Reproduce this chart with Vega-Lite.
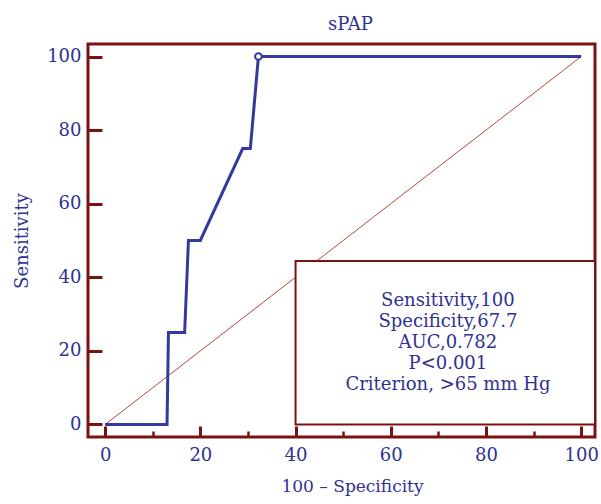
{
  "$schema": "https://vega.github.io/schema/vega-lite/v6.json",
  "width": 507,
  "height": 393,
  "autosize": "none",
  "padding": {"left": 88, "top": 44, "right": 6, "bottom": 67},
  "background": "white",
  "config": {
    "view": {"stroke": "#7a1212", "strokeWidth": 3},
    "font": "DejaVu Serif",
    "axis": {
      "domain": false,
      "grid": false,
      "tickColor": "#7a1212",
      "labelFont": "DejaVu Serif",
      "labelFontSize": 18,
      "labelColor": "#2e3192",
      "titleFont": "DejaVu Serif",
      "titleFontSize": 17,
      "titleFontWeight": "normal",
      "titleColor": "#2e3192"
    }
  },
  "title": {
    "text": "sPAP",
    "fontSize": 18,
    "font": "DejaVu Serif",
    "fontWeight": "normal",
    "color": "#2e3192",
    "baseline": "bottom",
    "offset": 11,
    "dx": 9,
    "dy": 19
  },
  "datasets": {
    "roc": [
      {"x": 0, "y": 0},
      {"x": 13, "y": 0},
      {"x": 13.3, "y": 25},
      {"x": 16.7, "y": 25},
      {"x": 17.5, "y": 50},
      {"x": 20, "y": 50},
      {"x": 28.9, "y": 75},
      {"x": 30.5, "y": 75},
      {"x": 32.2, "y": 100},
      {"x": 100, "y": 100}
    ],
    "diag": [
      {"x": 0, "y": 0},
      {"x": 100, "y": 100}
    ],
    "cut": [
      {"x": 32.2, "y": 100}
    ],
    "box": [
      {"label": "stats"}
    ]
  },
  "layer": [
    {
      "data": {"name": "diag"},
      "mark": {"type": "line", "color": "#b5473f", "strokeWidth": 1},
      "encoding": {
        "x": {
          "field": "x", "type": "quantitative",
          "scale": {"domain": [-3.6, 102.9], "nice": false, "zero": false},
          "title": "100 – Specificity",
          "axis": {
            "values": [0, 5, 10, 15, 20, 25, 30, 35, 40, 45, 50, 55, 60, 65, 70, 75, 80, 85, 90, 95, 100],
            "labelExpr": "datum.value % 20 === 0 ? datum.label : ''",
            "tickSize": {"condition": {"test": "datum.value % 20 === 0", "value": -11}, "value": -6},
            "tickWidth": {"condition": {"test": "datum.value % 20 === 0", "value": 3}, "value": 2.5},
            "labelPadding": 20,
            "titlePadding": 14,
            "titleX": 264
          }
        },
        "y": {
          "field": "y", "type": "quantitative",
          "scale": {"domain": [-3.4, 103.4], "nice": false, "zero": false},
          "title": "Sensitivity",
          "axis": {
            "values": [0, 5, 10, 15, 20, 25, 30, 35, 40, 45, 50, 55, 60, 65, 70, 75, 80, 85, 90, 95, 100],
            "labelExpr": "datum.value % 20 === 0 ? datum.label : ''",
            "tickSize": {"condition": {"test": "datum.value % 20 === 0", "value": -14}, "value": -8},
            "tickWidth": {"condition": {"test": "datum.value % 20 === 0", "value": 3}, "value": 2.5},
            "labelPadding": 21,
            "titlePadding": 15,
            "titleFontSize": 18
          }
        }
      }
    },
    {
      "data": {"name": "box"},
      "mark": {"type": "rect", "fill": "white", "stroke": "#7a1212", "strokeWidth": 2},
      "encoding": {
        "x": {"datum": 40, "type": "quantitative"},
        "x2": {"datum": 102.9},
        "y": {"datum": 0, "type": "quantitative"},
        "y2": {"datum": 44.4}
      }
    },
    {
      "data": {"name": "roc"},
      "mark": {"type": "line", "color": "#343a9c", "strokeWidth": 3},
      "encoding": {
        "x": {"field": "x", "type": "quantitative"},
        "y": {"field": "y", "type": "quantitative"}
      }
    },
    {
      "data": {"name": "cut"},
      "mark": {"type": "point", "shape": "circle", "filled": true, "fill": "white", "stroke": "#343a9c", "strokeWidth": 2, "size": 45, "opacity": 1},
      "encoding": {
        "x": {"field": "x", "type": "quantitative"},
        "y": {"field": "y", "type": "quantitative"}
      }
    },
    {
      "data": {"name": "box"},
      "mark": {
        "type": "text",
        "text": ["Sensitivity,100", "Specificity,67.7", "AUC,0.782", "P<0.001", "Criterion, >65 mm Hg"],
        "font": "DejaVu Serif",
        "fontSize": 18,
        "lineHeight": 21,
        "align": "center",
        "baseline": "middle",
        "color": "#2e3192"
      },
      "encoding": {
        "x": {"datum": 72, "type": "quantitative"},
        "y": {"datum": 33.5, "type": "quantitative"}
      }
    }
  ]
}
